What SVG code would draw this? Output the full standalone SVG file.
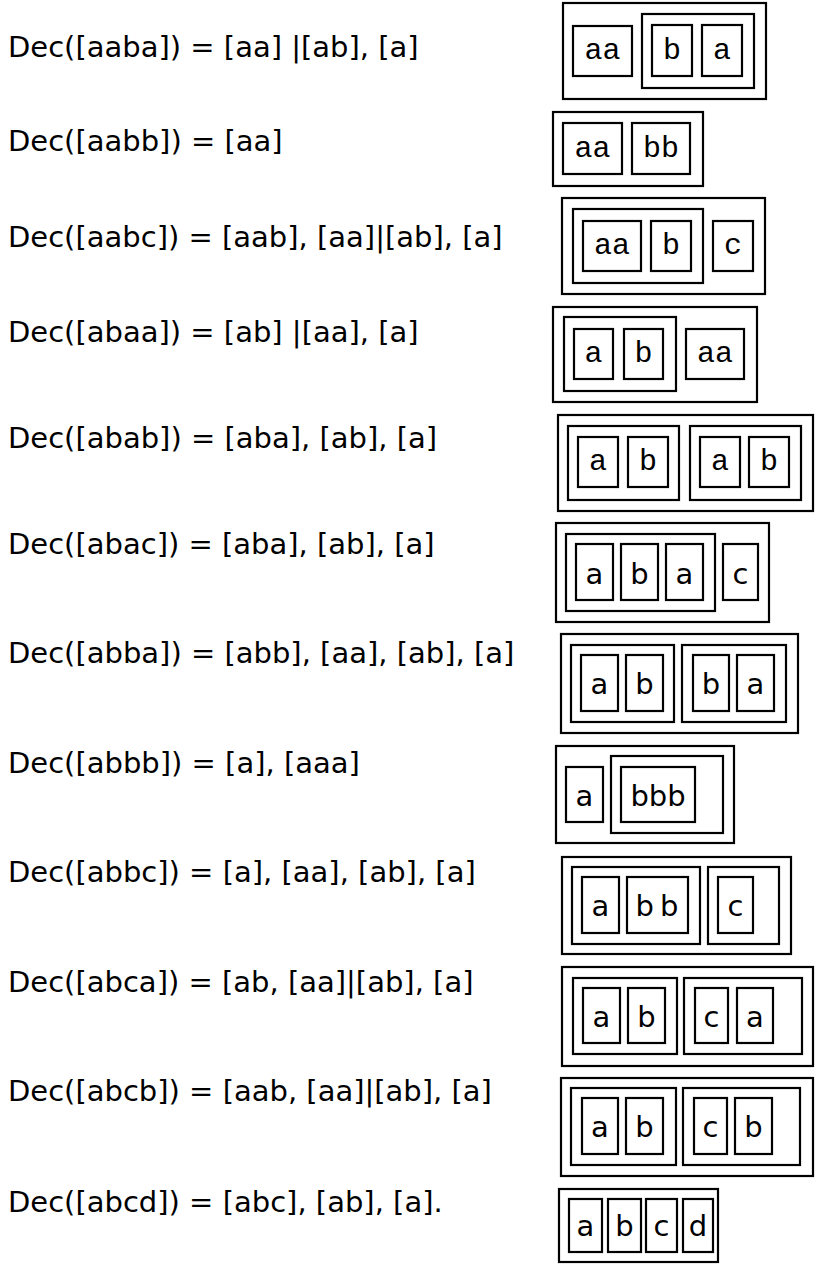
<svg xmlns="http://www.w3.org/2000/svg" width="815" height="1268" viewBox="0 0 815 1268">
  <style>
    .t { font-family: "DejaVu Sans", Verdana, sans-serif; font-size: 29px; fill: #000; }
    .b { fill: none; stroke: #000; stroke-width: 2.2; }
    .m { font-family: "Liberation Mono", "Courier New", monospace; font-size: 30px; fill: #000; text-anchor: middle; }
    .s { font-family: "DejaVu Sans", Verdana, sans-serif; font-size: 29px; fill: #000; text-anchor: middle; }
  </style>
  <rect width="815" height="1268" fill="#fff"/>

  <!-- decomposition formulas -->
  <g id="formulas">
    <text class="t" x="8" y="57">Dec([aaba]) = [aa] |[ab], [a]</text>
    <text class="t" x="8" y="151">Dec([aabb]) = [aa]</text>
    <text class="t" x="8" y="247">Dec([aabc]) = [aab], [aa]|[ab], [a]</text>
    <text class="t" x="8" y="342">Dec([abaa]) = [ab] |[aa], [a]</text>
    <text class="t" x="8" y="448">Dec([abab]) = [aba], [ab], [a]</text>
    <text class="t" x="8" y="554">Dec([abac]) = [aba], [ab], [a]</text>
    <text class="t" x="8" y="663">Dec([abba]) = [abb], [aa], [ab], [a]</text>
    <text class="t" x="8" y="773">Dec([abbb]) = [a], [aaa]</text>
    <text class="t" x="8" y="882">Dec([abbc]) = [a], [aa], [ab], [a]</text>
    <text class="t" x="8" y="992">Dec([abca]) = [ab, [aa]|[ab], [a]</text>
    <text class="t" x="8" y="1101">Dec([abcb]) = [aab, [aa]|[ab], [a]</text>
    <text class="t" x="8" y="1212">Dec([abcd]) = [abc], [ab], [a].</text>
  </g>

  <!-- aaba -->
  <g id="box-aaba">
    <rect class="b" x="563" y="3" width="203" height="96"/>
    <rect class="b" x="573" y="26" width="59" height="50"/>
    <text class="m" x="602.5" y="59">aa</text>
    <rect class="b" x="642" y="14" width="112" height="74"/>
    <rect class="b" x="652" y="25" width="40" height="51"/>
    <text class="m" x="672" y="59">b</text>
    <rect class="b" x="702" y="25" width="40" height="51"/>
    <text class="m" x="722" y="59">a</text>
  </g>

  <!-- aabb -->
  <g id="box-aabb">
    <rect class="b" x="553" y="112" width="150" height="74"/>
    <rect class="b" x="563" y="123" width="59" height="51"/>
    <text class="m" x="592.5" y="157">aa</text>
    <rect class="b" x="632" y="123" width="58" height="51"/>
    <text class="m" x="661" y="157">bb</text>
  </g>

  <!-- aabc -->
  <g id="box-aabc">
    <rect class="b" x="562" y="198" width="203" height="96"/>
    <rect class="b" x="573" y="209" width="130" height="74"/>
    <rect class="b" x="583" y="221" width="58" height="50"/>
    <text class="m" x="612" y="254">aa</text>
    <rect class="b" x="651" y="221" width="40" height="50"/>
    <text class="m" x="671" y="254">b</text>
    <rect class="b" x="713" y="221" width="40" height="50"/>
    <text class="m" x="733" y="254">c</text>
  </g>

  <!-- abaa -->
  <g id="box-abaa">
    <rect class="b" x="553" y="307" width="204" height="95"/>
    <rect class="b" x="564" y="317" width="112" height="74"/>
    <rect class="b" x="574" y="329" width="39" height="50"/>
    <text class="m" x="593.5" y="362">a</text>
    <rect class="b" x="624" y="329" width="39" height="50"/>
    <text class="m" x="643.5" y="362">b</text>
    <rect class="b" x="686" y="329" width="58" height="50"/>
    <text class="m" x="715" y="362">aa</text>
  </g>

  <!-- abab -->
  <g id="box-abab">
    <rect class="b" x="558" y="415" width="255" height="96"/>
    <rect class="b" x="568" y="426" width="111" height="74"/>
    <rect class="b" x="578" y="437" width="40" height="50"/>
    <text class="m" x="598" y="470">a</text>
    <rect class="b" x="628" y="437" width="40" height="50"/>
    <text class="m" x="648" y="470">b</text>
    <rect class="b" x="690" y="426" width="111" height="74"/>
    <rect class="b" x="700" y="437" width="40" height="50"/>
    <text class="m" x="720" y="470">a</text>
    <rect class="b" x="749" y="437" width="40" height="50"/>
    <text class="m" x="769" y="470">b</text>
  </g>

  <!-- abac -->
  <g id="box-abac">
    <rect class="b" x="556" y="523" width="213" height="99"/>
    <rect class="b" x="566" y="534" width="149" height="77"/>
    <rect class="b" x="576" y="544" width="37" height="56"/>
    <text class="s" x="594.5" y="584">a</text>
    <rect class="b" x="621" y="544" width="37" height="56"/>
    <text class="s" x="639.5" y="584">b</text>
    <rect class="b" x="666" y="544" width="37" height="56"/>
    <text class="s" x="684.5" y="584">a</text>
    <rect class="b" x="723" y="544" width="35" height="56"/>
    <text class="s" x="740.5" y="584">c</text>
  </g>

  <!-- abba -->
  <g id="box-abba">
    <rect class="b" x="561" y="634" width="237" height="99"/>
    <rect class="b" x="571" y="645" width="103" height="77"/>
    <rect class="b" x="581" y="655" width="37" height="56"/>
    <text class="s" x="599.5" y="694">a</text>
    <rect class="b" x="626" y="655" width="37" height="56"/>
    <text class="s" x="644.5" y="694">b</text>
    <rect class="b" x="682" y="645" width="104" height="77"/>
    <rect class="b" x="693" y="655" width="36" height="56"/>
    <text class="s" x="711" y="694">b</text>
    <rect class="b" x="737" y="655" width="37" height="56"/>
    <text class="s" x="755.5" y="694">a</text>
  </g>

  <!-- abbb -->
  <g id="box-abbb">
    <rect class="b" x="556" y="746" width="178" height="97"/>
    <rect class="b" x="566" y="767" width="37" height="55"/>
    <text class="s" x="584.5" y="806">a</text>
    <rect class="b" x="611" y="756" width="112" height="77"/>
    <rect class="b" x="621" y="767" width="74" height="55"/>
    <text class="s" x="658" y="806">bbb</text>
  </g>

  <!-- abbc -->
  <g id="box-abbc">
    <rect class="b" x="562" y="857" width="229" height="97"/>
    <rect class="b" x="572" y="867" width="128" height="77"/>
    <rect class="b" x="582" y="877" width="37" height="56"/>
    <text class="s" x="600.5" y="916">a</text>
    <rect class="b" x="627" y="877" width="61" height="56"/>
    <text class="s" x="660" y="916" letter-spacing="6">bb</text>
    <rect class="b" x="708" y="867" width="71" height="77"/>
    <rect class="b" x="718" y="877" width="35" height="56"/>
    <text class="s" x="735.5" y="916">c</text>
  </g>

  <!-- abca -->
  <g id="box-abca">
    <rect class="b" x="562" y="967" width="251" height="99"/>
    <rect class="b" x="573" y="978" width="104" height="76"/>
    <rect class="b" x="583" y="988" width="37" height="55"/>
    <text class="s" x="601.5" y="1027">a</text>
    <rect class="b" x="628" y="988" width="37" height="55"/>
    <text class="s" x="646.5" y="1027">b</text>
    <rect class="b" x="684" y="978" width="118" height="76"/>
    <rect class="b" x="695" y="988" width="33" height="55"/>
    <text class="s" x="711.5" y="1027">c</text>
    <rect class="b" x="737" y="988" width="36" height="55"/>
    <text class="s" x="755" y="1027">a</text>
  </g>

  <!-- abcb -->
  <g id="box-abcb">
    <rect class="b" x="561" y="1078" width="252" height="98"/>
    <rect class="b" x="571" y="1088" width="105" height="77"/>
    <rect class="b" x="582" y="1098" width="36" height="56"/>
    <text class="s" x="600" y="1137">a</text>
    <rect class="b" x="626" y="1098" width="37" height="56"/>
    <text class="s" x="644.5" y="1137">b</text>
    <rect class="b" x="683" y="1088" width="117" height="77"/>
    <rect class="b" x="694" y="1098" width="33" height="56"/>
    <text class="s" x="710.5" y="1137">c</text>
    <rect class="b" x="735" y="1098" width="37" height="56"/>
    <text class="s" x="753.5" y="1137">b</text>
  </g>

  <!-- abcd -->
  <g id="box-abcd">
    <rect class="b" x="559" y="1189" width="159" height="73"/>
    <rect class="b" x="569" y="1199" width="33" height="53"/>
    <text class="s" x="585.5" y="1236">a</text>
    <rect class="b" x="608" y="1199" width="33" height="53"/>
    <text class="s" x="624.5" y="1236">b</text>
    <rect class="b" x="646" y="1199" width="31" height="53"/>
    <text class="s" x="661.5" y="1236">c</text>
    <rect class="b" x="683" y="1199" width="30" height="53"/>
    <text class="s" x="698" y="1236">d</text>
  </g>

  <!-- no connectors in this figure -->
  <g id="connectors"/>
</svg>
